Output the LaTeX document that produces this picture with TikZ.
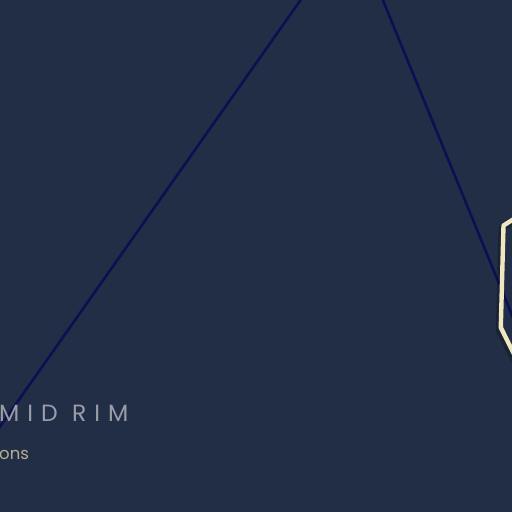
\documentclass[tikz,border=0pt]{standalone}
\usepackage{fontspec}
\newfontfamily\popfont[LetterSpace=34]{Poppins}
\newfontfamily\popplain{Poppins}
\definecolor{bgc}{HTML}{222E46}
\definecolor{navy}{HTML}{0B1052}
\definecolor{cream}{HTML}{EEE7BF}
\definecolor{greytxt}{HTML}{9A9DA6}
\definecolor{khaki}{HTML}{B5B08F}
\tikzset{
  wire/.style={draw=navy, line width=2.6pt},
  hexline/.style={draw=cream, line width=4.4pt, line join=round},
  hexshadow/.style={draw=black, opacity=0.22, line width=6pt, line join=round},
  lbl/.style={inner sep=0pt, anchor=base west}
}
\begin{document}
\begin{tikzpicture}[x=1pt,y=-1pt]
\fill[bgc] (0,0) rectangle (512,512);
\useasboundingbox (0,0) rectangle (512,512);
\coordinate (a1) at (302,-2);
\coordinate (a2) at (-1,428);
\coordinate (b1) at (382,-2);
\coordinate (b2) at (514,320);
\draw[wire] (a1) -- (a2);
\draw[wire] (b1) -- (b2);
\coordinate (h1) at (533,207);
\coordinate (h2) at (503.5,225.5);
\coordinate (h3) at (500.8,327.5);
\coordinate (h4) at (517,360);
\draw[hexshadow] ([shift={(-2,3)}]h1) -- ([shift={(-2,3)}]h2) -- ([shift={(-2,3)}]h3) -- ([shift={(-2,3)}]h4);
\draw[hexline] (h1) -- (h2) -- (h3) -- (h4);
\node[lbl, text=greytxt, font=\popfont\fontsize{23.5}{26}\selectfont] (mid) at (-1,421) {MID RIM};
\node[lbl, text=khaki, font=\popplain\fontsize{16.5}{20}\selectfont] (ons) at (-1,459) {ons};
\end{tikzpicture}
\end{document}
